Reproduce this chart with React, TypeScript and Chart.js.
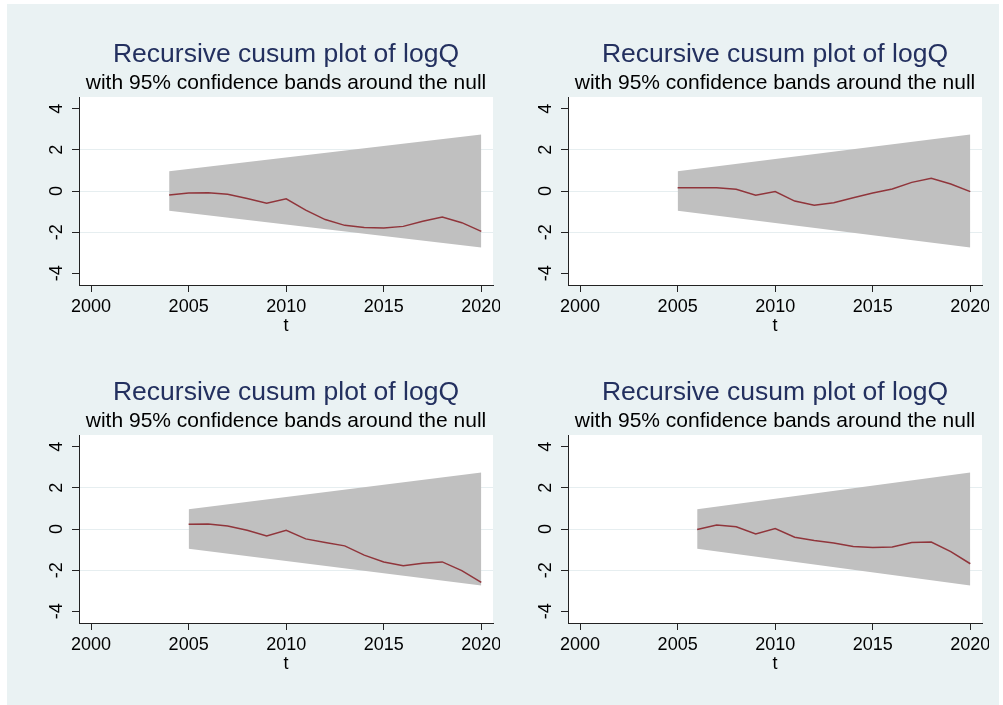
import React, { useEffect, useRef } from "react";
import { Chart, registerables } from "chart.js";

Chart.register(...registerables);

// ---------- data ----------
const titleText = "Recursive cusum plot of logQ";
const subtitleText = "with 95% confidence bands around the null";
const xAxisTitle = "t";
const xTickValues = [2000, 2005, 2010, 2015, 2020];
const yTickValues = [-4, -2, 0, 2, 4];

const years1 = [2004, 2005, 2006, 2007, 2008, 2009, 2010, 2011, 2012, 2013, 2014, 2015, 2016, 2017, 2018, 2019, 2020];
const cusum1 = [-0.2, -0.1, -0.08, -0.16, -0.36, -0.6, -0.38, -0.93, -1.39, -1.67, -1.78, -1.8, -1.72, -1.47, -1.26, -1.54, -1.96];

const years2 = [2005, 2006, 2007, 2008, 2009, 2010, 2011, 2012, 2013, 2014, 2015, 2016, 2017, 2018, 2019, 2020];
const cusum2 = [0.16, 0.16, 0.16, 0.08, -0.21, -0.03, -0.49, -0.69, -0.57, -0.33, -0.1, 0.1, 0.42, 0.62, 0.34, -0.03];

const years3 = [2005, 2006, 2007, 2008, 2009, 2010, 2011, 2012, 2013, 2014, 2015, 2016, 2017, 2018, 2019, 2020];
const cusum3 = [0.23, 0.24, 0.15, -0.06, -0.34, -0.06, -0.48, -0.66, -0.82, -1.27, -1.6, -1.79, -1.66, -1.6, -2.02, -2.6];

const years4 = [2006, 2007, 2008, 2009, 2010, 2011, 2012, 2013, 2014, 2015, 2016, 2017, 2018, 2019, 2020];
const cusum4 = [-0.02, 0.19, 0.11, -0.24, 0.02, -0.4, -0.56, -0.68, -0.85, -0.9, -0.87, -0.66, -0.63, -1.1, -1.69];

// confidence band end points (start year, 2020)
const bandYears1 = [2004, 2020];
const bandYears2 = [2005, 2020];
const bandYears3 = [2005, 2020];
const bandYears4 = [2006, 2020];
const bandUpper = [0.96, 2.75];
const bandLower = [-0.96, -2.75];

const panels = [
  { years: years1, cusum: cusum1, bandYears: bandYears1 },
  { years: years2, cusum: cusum2, bandYears: bandYears2 },
  { years: years3, cusum: cusum3, bandYears: bandYears3 },
  { years: years4, cusum: cusum4, bandYears: bandYears4 },
];

// ---------- styling ----------
const FONT = "'Liberation Sans', Arial, Helvetica, sans-serif";
const BG = "rgb(234,242,243)";
const TITLE_COLOR = "#23305f";
const LINE_COLOR = "#90353b";
const BAND_COLOR = "#c0c0c0";
const GRID_COLOR = "#e6eef0";
const AXIS_COLOR = "#222";

const CW = 493;
const CH = 338;

const whiteArea = {
  id: "whiteArea",
  beforeDraw(chart: any) {
    const { ctx, chartArea } = chart;
    ctx.save();
    ctx.fillStyle = "#ffffff";
    ctx.fillRect(chartArea.left, chartArea.top, chartArea.right - chartArea.left, chartArea.bottom - chartArea.top);
    ctx.restore();
  },
};

function Panel({ years, cusum, bandYears }: { years: number[]; cusum: number[]; bandYears: number[] }) {
  const ref = useRef<HTMLCanvasElement | null>(null);
  useEffect(() => {
    if (!ref.current) return;
    const chart = new Chart(ref.current, {
      type: "line",
      data: {
        datasets: [
          {
            data: years.map((x, i) => ({ x, y: cusum[i] })),
            borderColor: LINE_COLOR,
            borderWidth: 1.5,
            pointRadius: 0,
            fill: false,
            tension: 0,
          },
          {
            data: bandYears.map((x, i) => ({ x, y: bandUpper[i] })),
            borderColor: "rgba(0,0,0,0)",
            borderWidth: 0,
            backgroundColor: BAND_COLOR,
            pointRadius: 0,
            fill: "+1",
          },
          {
            data: bandYears.map((x, i) => ({ x, y: bandLower[i] })),
            borderColor: "rgba(0,0,0,0)",
            borderWidth: 0,
            pointRadius: 0,
            fill: false,
          },
        ],
      },
      options: {
        responsive: false,
        animation: false,
        devicePixelRatio: 1,
        layout: { padding: { left: 0, right: 7, top: 0, bottom: 0 } },
        plugins: {
          legend: { display: false },
          tooltip: { enabled: false },
          title: {
            display: true,
            text: titleText,
            color: TITLE_COLOR,
            font: { family: FONT, size: 26.5, weight: "normal" },
            padding: { top: 35, bottom: 0 },
            fullSize: false,
          },
          subtitle: {
            display: true,
            text: subtitleText,
            color: "#000",
            font: { family: FONT, size: 21, weight: "normal" },
            padding: { top: 0, bottom: 1 },
            fullSize: false,
          },
        },
        scales: {
          x: {
            type: "linear",
            min: 1999.38,
            max: 2020.6,
            afterBuildTicks: (s: any) => {
              s.ticks = xTickValues.map((v) => ({ value: v }));
            },
            afterFit: (s: any) => {
              s.height = 57;
              s.paddingLeft = 0;
              s.paddingRight = 0;
            },
            grid: { drawOnChartArea: false, drawTicks: true, tickLength: 7, tickColor: AXIS_COLOR },
            border: { display: true, color: AXIS_COLOR, width: 1 },
            ticks: {
              color: "#000",
              font: { family: FONT, size: 18 },
              padding: 4,
              maxRotation: 0,
              autoSkip: false,
              callback: (v: any) => String(v),
            },
            title: {
              display: true,
              text: xAxisTitle,
              color: "#000",
              font: { family: FONT, size: 18 },
              padding: { top: 0, bottom: 5 },
            },
          },
          y: {
            type: "linear",
            min: -4.57,
            max: 4.57,
            afterBuildTicks: (s: any) => {
              s.ticks = yTickValues.map((v) => ({ value: v }));
            },
            afterFit: (s: any) => {
              s.width = 72;
              s.paddingTop = 0;
              s.paddingBottom = 0;
            },
            grid: {
              color: (ctx: any) => (ctx.tick && Math.abs(ctx.tick.value) === 4 ? "rgba(0,0,0,0)" : GRID_COLOR),
              lineWidth: 1,
              tickColor: AXIS_COLOR,
              tickLength: 7,
            },
            border: { display: true, color: AXIS_COLOR, width: 1 },
            ticks: {
              color: "#000",
              font: { family: FONT, size: 18 },
              minRotation: 90,
              maxRotation: 90,
              crossAlign: "center",
              padding: 7,
              autoSkip: false,
              callback: (v: any) => String(v),
            },
          },
        },
      },
      plugins: [whiteArea],
    } as any);
    return () => chart.destroy();
  }, []);
  return <canvas ref={ref} width={CW} height={CH} style={{ width: CW, height: CH, display: "block" }} />;
}

export default function App() {
  return (
    <div style={{ position: "absolute", left: 7, top: 4, width: 992, height: 701, background: BG, overflow: "hidden" }}>
      {panels.map((p, i) => (
        <div key={i} style={{ position: "absolute", left: (i % 2) * 489, top: Math.floor(i / 2) * 338, width: CW, height: CH }}>
          <Panel years={p.years} cusum={p.cusum} bandYears={p.bandYears} />
        </div>
      ))}
    </div>
  );
}
